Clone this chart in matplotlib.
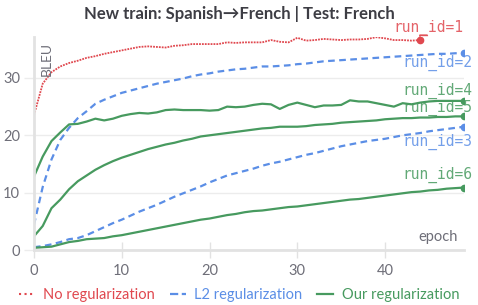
import matplotlib.pyplot as plt
import numpy as np

plt.rcParams['font.family'] = ['Lato', 'DejaVu Sans']

RED = '#e0484f'
BLUE = '#5b8ee6'
GREEN = '#479a5f'
GRAY = '#6e6e78'

epochs_short = np.arange(45)
epochs = np.arange(50)

run1 = [23.5, 29.0, 31.0, 32.0, 32.6, 33.0, 33.5, 33.8, 34.2, 34.5,
        34.8, 35.1, 35.4, 35.5, 35.4, 35.3, 35.6, 35.7, 35.9, 35.9,
        35.9, 35.9, 36.2, 36.1, 36.2, 36.2, 36.2, 36.6, 36.3, 36.2,
        37.0, 36.5, 36.6, 36.8, 36.7, 36.6, 36.7, 36.7, 36.8, 37.1,
        36.9, 36.6, 36.6, 36.5, 36.6]
run2 = [4.4, 11.0, 15.8, 19.2, 21.3, 23.0, 24.2, 25.5, 26.2, 26.8,
        27.4, 27.8, 28.2, 28.6, 29.0, 29.3, 29.6, 29.9, 30.3, 30.6,
        30.8, 31.1, 31.3, 31.5, 31.6, 31.8, 32.0, 32.0, 32.1, 32.2,
        32.4, 32.5, 32.7, 32.9, 33.0, 33.1, 33.2, 33.3, 33.4, 33.5,
        33.6, 33.7, 33.8, 33.9, 34.0, 34.1, 34.2, 34.2, 34.3, 34.3]
run3 = [0.5, 0.7, 1.0, 1.4, 1.9, 2.1, 2.6, 3.3, 4.0, 4.7,
        5.3, 6.0, 6.7, 7.3, 7.9, 8.6, 9.3, 9.9, 10.5, 11.1,
        11.8, 12.4, 13.0, 13.4, 13.8, 14.2, 14.7, 15.1, 15.4, 15.8,
        16.2, 16.6, 16.9, 17.3, 17.7, 18.1, 18.4, 18.7, 19.0, 19.2,
        19.4, 19.7, 20.0, 20.2, 20.4, 20.7, 20.9, 21.1, 21.3, 21.5]
run4 = [12.8, 16.3, 19.0, 20.5, 21.9, 22.0, 22.4, 22.9, 22.6, 22.9,
        23.4, 23.7, 23.9, 23.8, 24.0, 24.4, 24.5, 24.4, 24.4, 24.4,
        24.3, 24.4, 25.0, 24.9, 25.0, 25.3, 25.5, 25.4, 24.6, 25.3,
        25.7, 25.3, 24.9, 25.2, 25.2, 25.3, 26.1, 25.9, 25.9, 25.6,
        25.3, 25.0, 25.6, 25.4, 25.7, 25.9, 26.0, 26.0, 26.0, 26.0]
run5 = [2.4, 4.2, 7.3, 8.8, 10.6, 12.0, 13.0, 14.0, 14.8, 15.5,
        16.1, 16.6, 17.1, 17.6, 18.0, 18.4, 18.7, 19.1, 19.4, 19.8,
        20.0, 20.2, 20.4, 20.6, 20.8, 21.0, 21.2, 21.3, 21.5, 21.5,
        21.5, 21.6, 21.8, 21.9, 22.0, 22.2, 22.3, 22.4, 22.5, 22.6,
        22.8, 22.9, 23.0, 23.0, 23.1, 23.1, 23.2, 23.2, 23.3, 23.3]
run6 = [0.4, 0.5, 0.6, 1.0, 1.4, 1.6, 1.9, 2.0, 2.1, 2.4,
        2.6, 2.9, 3.2, 3.5, 3.8, 4.1, 4.4, 4.7, 5.0, 5.3,
        5.5, 5.8, 6.1, 6.3, 6.6, 6.8, 6.9, 7.1, 7.3, 7.5,
        7.6, 7.8, 8.0, 8.2, 8.4, 8.6, 8.8, 8.9, 9.1, 9.3,
        9.5, 9.7, 9.9, 10.1, 10.2, 10.4, 10.5, 10.7, 10.8, 10.9]

# (name, x, y, color, style, label offset in points)
runs = [
    ('run_id=1', epochs_short, run1, RED, ':', (31, 9)),
    ('run_id=2', epochs, run2, BLUE, '--', (6, -7)),
    ('run_id=3', epochs, run3, BLUE, '--', (6, -11)),
    ('run_id=4', epochs, run4, GREEN, '-', (6, 7)),
    ('run_id=5', epochs, run5, GREEN, '-', (6, 6)),
    ('run_id=6', epochs, run6, GREEN, '-', (6, 9)),
]

fig = plt.figure(figsize=(4.78, 3.05), dpi=100)
ax = fig.add_axes([0.071, 0.18, 0.900, 0.699])

for name, x, y, color, ls, off in runs:
    lw = 1.3 if ls == ':' else 1.6
    ax.plot(x, y, color=color, linestyle=ls, linewidth=lw,
            dashes=(3, 2) if ls == '--' else (None, None) if ls == '-' else (1, 0.6))
    ax.plot(x[-1], y[-1], 'o', color=color, markersize=4.5)
    ax.annotate(name, (x[-1], y[-1]), xytext=off, textcoords='offset points',
                ha='right', va='center', color=color, fontsize=10.5,
                family='DejaVu Sans Mono', alpha=0.85)

# small leader line from the run 1 point to its label
ax.annotate('', (epochs_short[-1], run1[-1]), xytext=(7, 4), textcoords='offset points',
            arrowprops=dict(arrowstyle='-', color=RED, lw=1.2, alpha=0.7,
                            connectionstyle='angle,angleA=0,angleB=90,rad=0'))

ax.set_xlim(0, 49)
ax.set_ylim(0, 37.15)
ax.set_xticks([0, 10, 20, 30, 40])
ax.set_yticks([0, 10, 20, 30])
ax.grid(axis='y', color='#ececec', linewidth=1)
ax.set_axisbelow(True)
for s in ['top', 'right']:
    ax.spines[s].set_visible(False)
for s in ['left', 'bottom']:
    ax.spines[s].set_color('#e2e2e2')
    ax.spines[s].set_linewidth(2)
ax.tick_params(axis='x', direction='inout', length=12, width=1, color='#e2e2e2',
               labelcolor=GRAY, labelsize=10.5, pad=4)
ax.tick_params(axis='y', direction='out', length=7, width=1, color='#ececec',
               labelcolor=GRAY, labelsize=10.5, pad=3)

ax.text(0.03, 0.975, 'BLEU', transform=ax.transAxes, rotation=90, ha='center', va='top',
        color=GRAY, fontsize=10)
ax.text(0.985, 0.06, 'epoch', transform=ax.transAxes, ha='right', va='center',
        color=GRAY, fontsize=10.5)

fig.text(0.5, 0.955, 'New train: Spanish\u2192French | Test: French', ha='center', va='center',
         fontsize=12, fontweight='bold', color='#3d3d44')

handles = [
    plt.Line2D([], [], color=RED, linestyle=':', linewidth=1.5),
    plt.Line2D([], [], color=BLUE, linestyle='--', linewidth=1.6),
    plt.Line2D([], [], color=GREEN, linestyle='-', linewidth=1.6),
]
fig.legend(handles, ['No regularization', 'L2 regularization', 'Our regularization'],
           loc='center', bbox_to_anchor=(0.5, 0.033), ncol=3, frameon=False,
           handlelength=1.1, handletextpad=0.6, columnspacing=1.0, fontsize=10.5,
           labelcolor='linecolor')

fig.savefig('out.png', dpi=100)
